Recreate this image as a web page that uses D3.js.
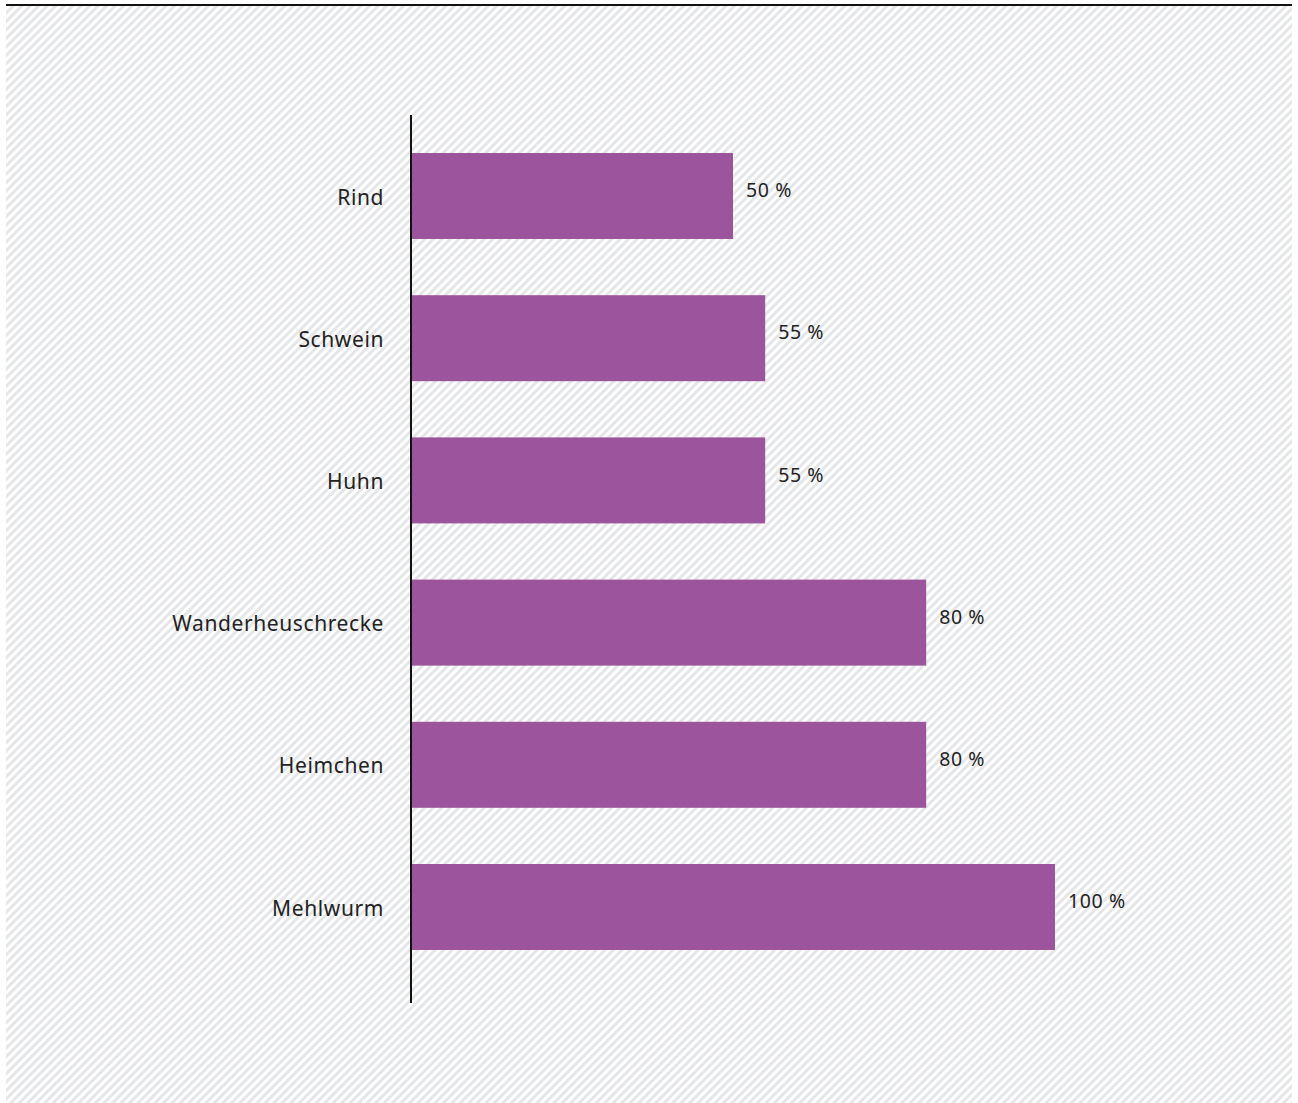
<!DOCTYPE html>
<html>
<head>
<meta charset="utf-8">
<script src="https://cdn.jsdelivr.net/npm/d3@7"></script>
<style>
html,body{margin:0;padding:0;background:#fff;}
svg{display:block;}
</style>
</head>
<body>
<svg id="chart" width="1298" height="1103"></svg>
<script>
const categories = ["Rind", "Schwein", "Huhn", "Wanderheuschrecke", "Heimchen", "Mehlwurm"];
const values = [50, 55, 55, 80, 80, 100];
const valueLabels = ["50 %", "55 %", "55 %", "80 %", "80 %", "100 %"];

const svg = d3.select("#chart");
const W = 1298, H = 1103;

const defs = svg.append("defs");
const pat = defs.append("pattern")
  .attr("id", "hatch")
  .attr("patternUnits", "userSpaceOnUse")
  .attr("width", 6).attr("height", 6)
  .attr("patternTransform", "rotate(45)");
pat.append("rect").attr("width", 6).attr("height", 6).attr("fill", "#ffffff");
pat.append("rect").attr("width", 3).attr("height", 6).attr("fill", "#e5e6e8");

svg.append("rect").attr("x", 6).attr("y", 6).attr("width", 1286).attr("height", H - 6).attr("fill", "url(#hatch)");
svg.append("line").attr("x1", 6).attr("x2", 1292).attr("y1", 5).attr("y2", 5)
  .attr("stroke", "#111").attr("stroke-width", 2);

const x0 = 411;
const x = d3.scaleLinear().domain([0, 100]).range([x0, x0 + 644]);
const step = 142.2, bw = 86;
const pin = (step - bw) / step;
const pout = 28.1 / step;
const y = d3.scaleBand().domain(categories)
  .range([153 - 28.1, 950 + 28.1])
  .paddingInner(pin).paddingOuter(pout);

const data = categories.map((c, i) => ({c, v: values[i], l: valueLabels[i]}));

svg.append("g").selectAll("rect").data(data).join("rect")
  .attr("x", x(0))
  .attr("y", d => y(d.c))
  .attr("width", d => x(d.v) - x(0))
  .attr("height", y.bandwidth())
  .attr("fill", "#9c559c");

svg.append("line").attr("x1", x0).attr("x2", x0).attr("y1", 115).attr("y2", 1003)
  .attr("stroke", "#111").attr("stroke-width", 2);

svg.append("g").selectAll("text").data(data).join("text")
  .attr("x", 384)
  .attr("y", d => y(d.c) + y.bandwidth() / 2 + 3)
  .attr("text-anchor", "end")
  .attr("dominant-baseline", "middle")
  .attr("font-family", "'Noto Sans', sans-serif")
  .attr("font-size", 21)
  .attr("letter-spacing", 0.6)
  .attr("fill", "#222")
  .text(d => d.c);

svg.append("g").selectAll("text").data(data).join("text")
  .attr("x", d => x(d.v) + 13)
  .attr("y", d => y(d.c) + y.bandwidth() / 2 - 4)
  .attr("text-anchor", "start")
  .attr("dominant-baseline", "middle")
  .attr("font-family", "'Noto Sans', sans-serif")
  .attr("font-size", 19.5)
  .attr("letter-spacing", 0.6)
  .attr("fill", "#222")
  .text(d => d.l);
</script>
</body>
</html>
